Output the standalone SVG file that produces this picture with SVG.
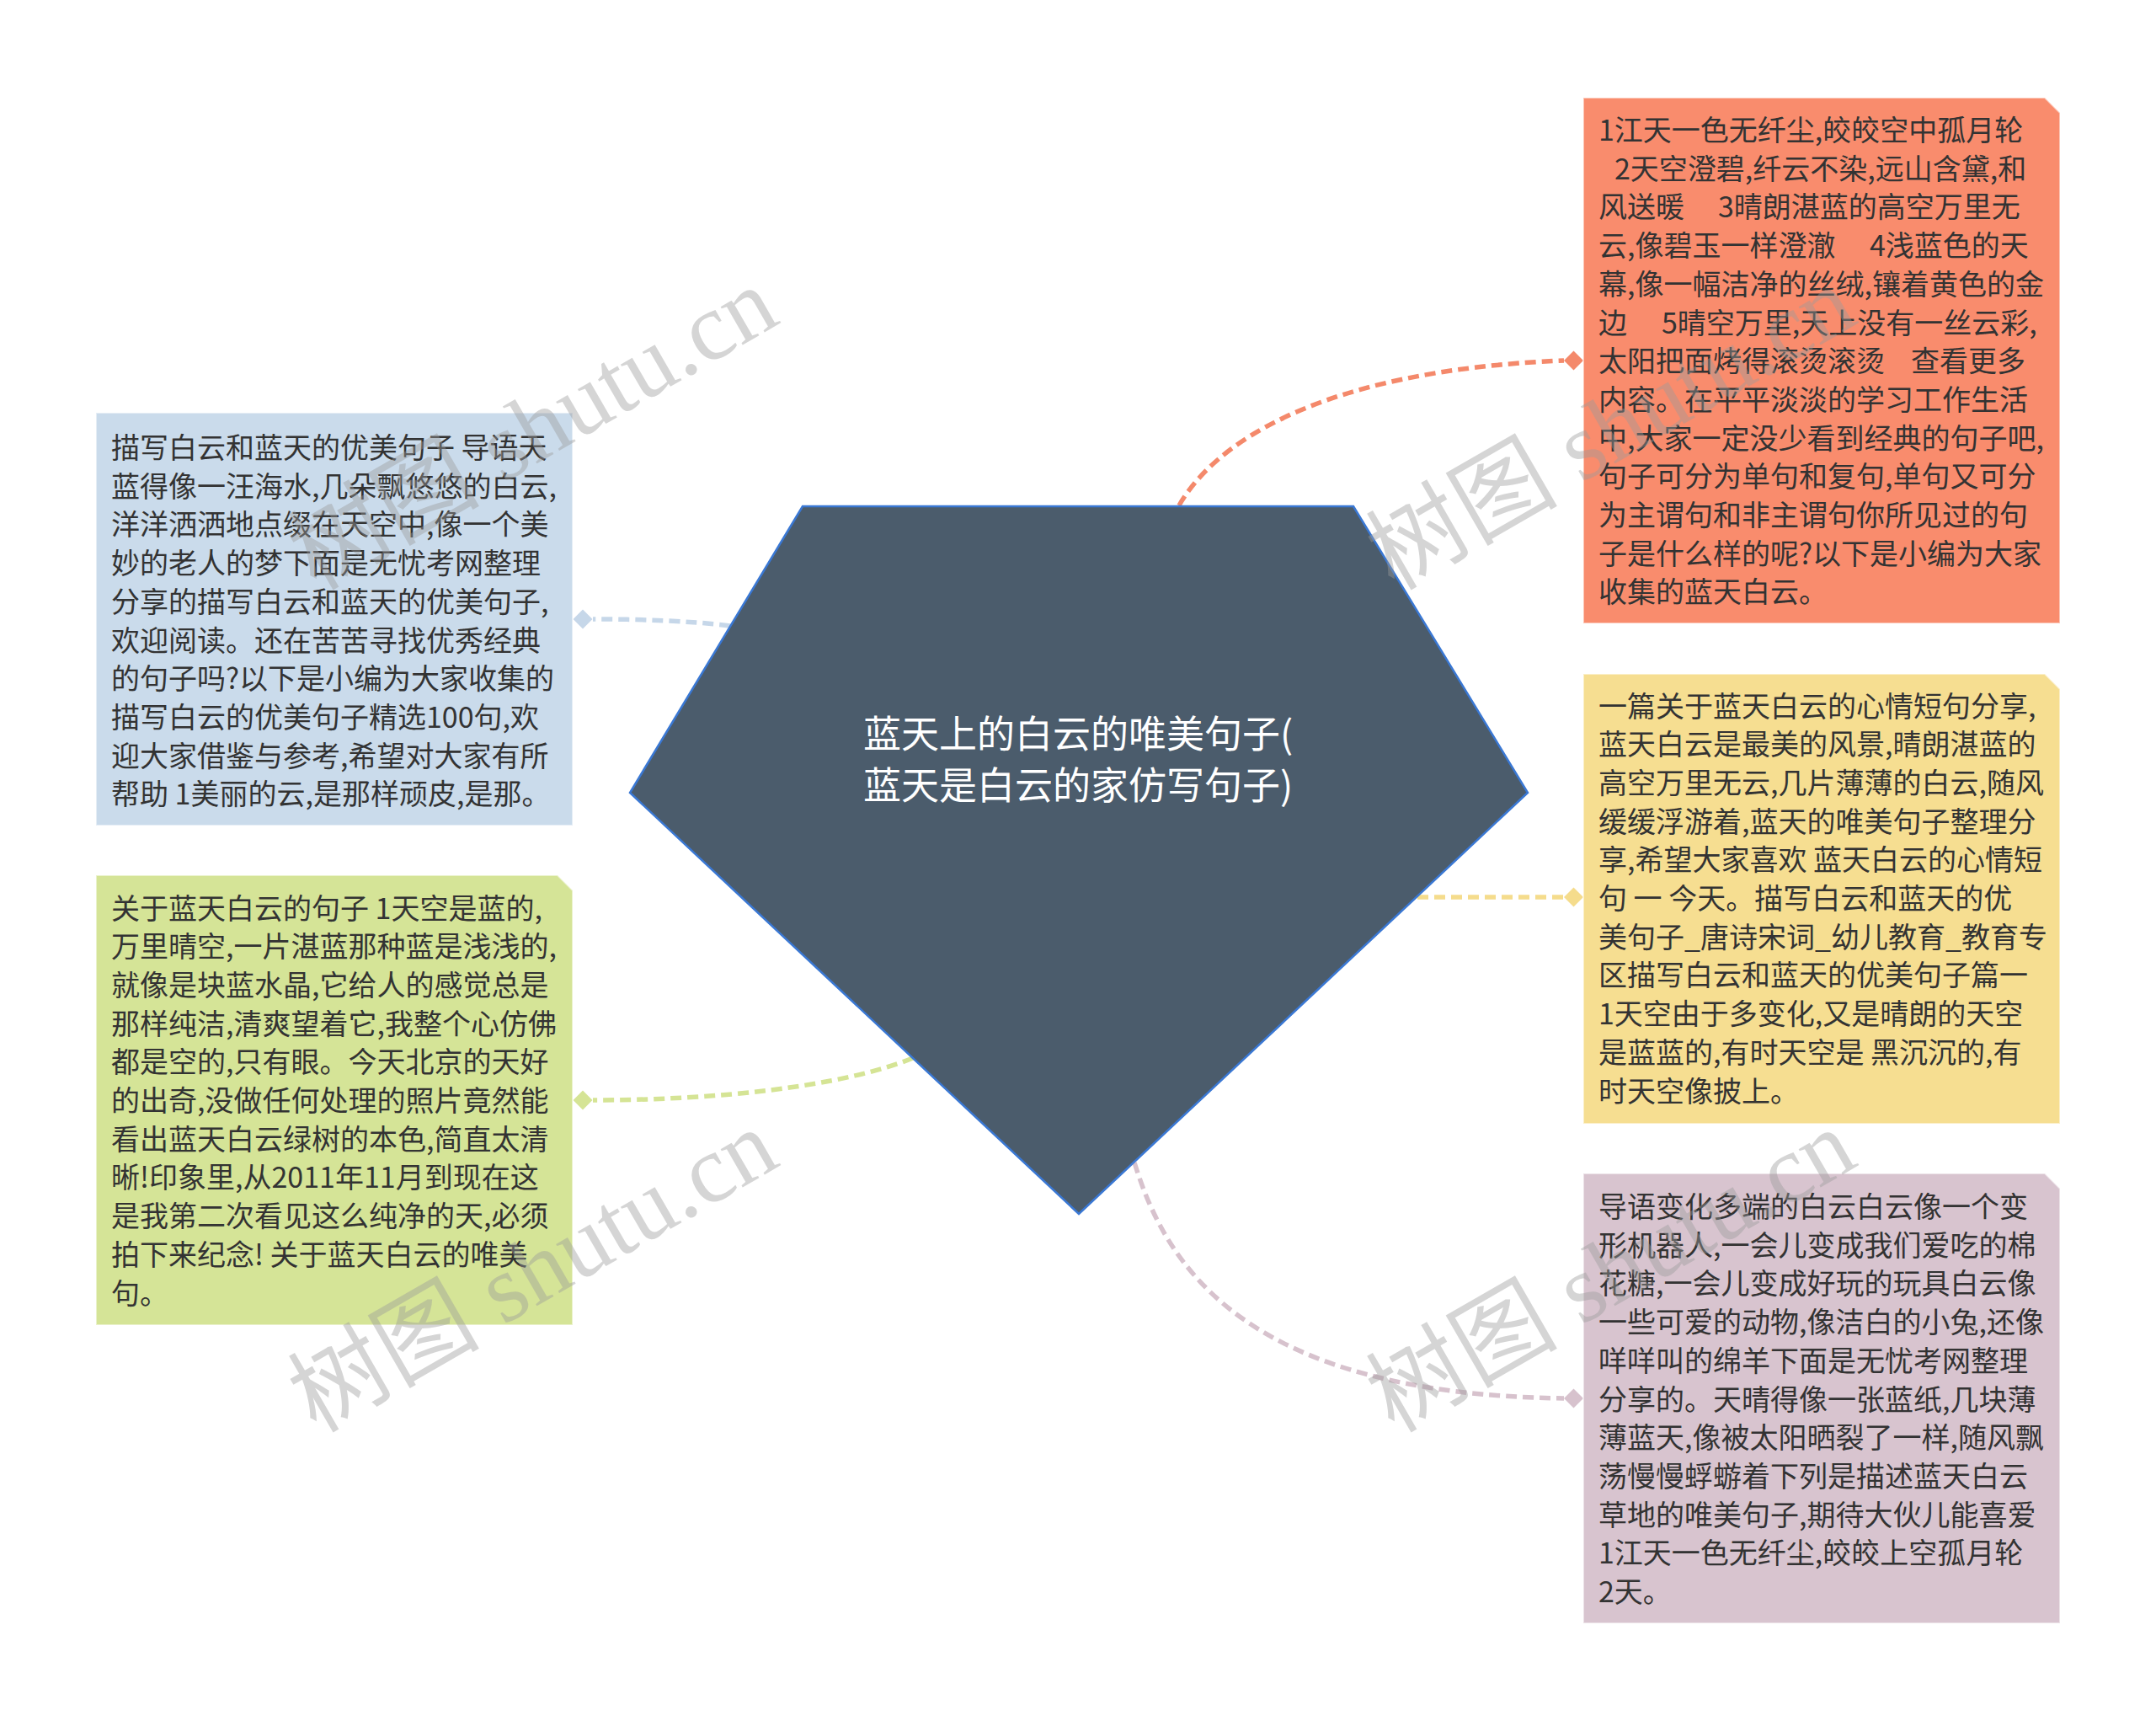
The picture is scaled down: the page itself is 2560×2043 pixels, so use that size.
<svg xmlns="http://www.w3.org/2000/svg" width="2560" height="2043" viewBox="0 0 2560 2043">
<style>
.bg{fill:#ffffff}
.t{font-family:"Noto Sans CJK SC","Microsoft YaHei",sans-serif;font-size:34px;fill:#333333}
.title{font-family:"Noto Sans CJK SC","Microsoft YaHei",sans-serif;font-size:45px;fill:#ffffff;text-anchor:middle}
.conn{fill:none;stroke-width:5.5;stroke-dasharray:13 7}
.wm{font-family:"Liberation Serif","Noto Sans CJK SC",serif;font-size:114px;fill:#9a9a9a;fill-opacity:0.42}
.box{stroke:#ffffff;stroke-opacity:0.5;stroke-width:2}
</style>
<rect class="bg" x="0" y="0" width="2560" height="2043"/>

<g id="connectors">
  <path class="conn" stroke="#F4896B" d="M1400,600 C1440,530 1560,440 1857,428"/>
  <path fill="#F4896B" d="M1868.5,416.5 L1880,428 L1868.5,439.5 L1857,428 Z"/>
  <path class="conn" stroke="#C6D7E9" d="M867,743 C820,737 760,735 704,735"/>
  <path fill="#C6D7E9" d="M692,723.5 L703.5,735 L692,746.5 L680.5,735 Z"/>
  <path class="conn" stroke="#D5E495" d="M1084,1256 C1000,1290 850,1306 704,1306"/>
  <path fill="#D5E495" d="M692,1294.5 L703.5,1306 L692,1317.5 L680.5,1306 Z"/>
  <path class="conn" stroke="#F5DC8C" d="M1683,1065 H1857"/>
  <path fill="#F5DC8C" d="M1868.5,1053.5 L1880,1065 L1868.5,1076.5 L1857,1065 Z"/>
  <path class="conn" stroke="#D7C2CD" d="M1347,1380 C1385,1505 1480,1655 1857,1660"/>
  <path fill="#D7C2CD" d="M1868.5,1648.5 L1880,1660 L1868.5,1671.5 L1857,1660 Z"/>
</g>

<g id="center">
  <polygon points="953,601 1607,601 1814,941 1281,1441 748,941" fill="#4B5C6C" stroke="#3A78D4" stroke-width="2.5"/>
  <text class="title"><tspan x="1280" y="888">蓝天上的白云的唯美句子(</tspan><tspan x="1280" y="949">蓝天是白云的家仿写句子)</tspan></text>
</g>

<g id="node-orange">
  <path class="box" fill="#F98C6D" d="M1880,116 H2428 L2446,134 V740 H1880 Z"/>
  <text class="t">
    <tspan x="1898" y="167">1江天一色无纤尘,皎皎空中孤月轮</tspan>
    <tspan x="1917" y="212.7">2天空澄碧,纤云不染,远山含黛,和</tspan>
    <tspan x="1898" y="258.4">风送暖 </tspan><tspan x="2040" y="258.4">3晴朗湛蓝的高空万里无</tspan>
    <tspan x="1898" y="304.1">云,像碧玉一样澄澈 </tspan><tspan x="2220" y="304.1">4浅蓝色的天</tspan>
    <tspan x="1898" y="349.8">幕,像一幅洁净的丝绒,镶着黄色的金</tspan>
    <tspan x="1898" y="395.5">边 </tspan><tspan x="1973" y="395.5">5晴空万里,天上没有一丝云彩,</tspan>
    <tspan x="1898" y="441.2">太阳把面烤得滚烫滚烫 </tspan><tspan x="2269" y="441.2">查看更多</tspan>
    <tspan x="1898" y="486.9">内容。在平平淡淡的学习工作生活</tspan>
    <tspan x="1898" y="532.6">中,大家一定没少看到经典的句子吧,</tspan>
    <tspan x="1898" y="578.3">句子可分为单句和复句,单句又可分</tspan>
    <tspan x="1898" y="624">为主谓句和非主谓句你所见过的句</tspan>
    <tspan x="1898" y="669.7">子是什么样的呢?以下是小编为大家</tspan>
    <tspan x="1898" y="715.4">收集的蓝天白云。</tspan>
  </text>
</g>

<g id="node-yellow">
  <path class="box" fill="#F6DE91" d="M1880,800 H2428 L2446,818 V1334 H1880 Z"/>
  <text class="t">
    <tspan x="1898" y="850.5">一篇关于蓝天白云的心情短句分享,</tspan>
    <tspan x="1898" y="896.2">蓝天白云是最美的风景,晴朗湛蓝的</tspan>
    <tspan x="1898" y="941.9">高空万里无云,几片薄薄的白云,随风</tspan>
    <tspan x="1898" y="987.6">缓缓浮游着,蓝天的唯美句子整理分</tspan>
    <tspan x="1898" y="1033.3">享,希望大家喜欢 蓝天白云的心情短</tspan>
    <tspan x="1898" y="1079">句 一 今天。描写白云和蓝天的优</tspan>
    <tspan x="1898" y="1124.7">美句子_唐诗宋词_幼儿教育_教育专</tspan>
    <tspan x="1898" y="1170.4">区描写白云和蓝天的优美句子篇一</tspan>
    <tspan x="1898" y="1216.1">1天空由于多变化,又是晴朗的天空</tspan>
    <tspan x="1898" y="1261.8">是蓝蓝的,有时天空是 黑沉沉的,有</tspan>
    <tspan x="1898" y="1307.5">时天空像披上。</tspan>
  </text>
</g>

<g id="node-purple">
  <path class="box" fill="#D8C4CF" d="M1880,1393 H2428 L2446,1411 V1927 H1880 Z"/>
  <text class="t">
    <tspan x="1898" y="1445">导语变化多端的白云白云像一个变</tspan>
    <tspan x="1898" y="1490.7">形机器人,一会儿变成我们爱吃的棉</tspan>
    <tspan x="1898" y="1536.4">花糖,一会儿变成好玩的玩具白云像</tspan>
    <tspan x="1898" y="1582.1">一些可爱的动物,像洁白的小兔,还像</tspan>
    <tspan x="1898" y="1627.8">咩咩叫的绵羊下面是无忧考网整理</tspan>
    <tspan x="1898" y="1673.5">分享的。天晴得像一张蓝纸,几块薄</tspan>
    <tspan x="1898" y="1719.2">薄蓝天,像被太阳晒裂了一样,随风飘</tspan>
    <tspan x="1898" y="1764.9">荡慢慢蜉蝣着下列是描述蓝天白云</tspan>
    <tspan x="1898" y="1810.6">草地的唯美句子,期待大伙儿能喜爱</tspan>
    <tspan x="1898" y="1856.3">1江天一色无纤尘,皎皎上空孤月轮</tspan>
    <tspan x="1898" y="1902">2天。</tspan>
  </text>
</g>

<g id="node-blue">
  <path class="box" fill="#CADBEB" d="M114,490 H680 V980 H114 Z"/>
  <text class="t">
    <tspan x="132" y="544">描写白云和蓝天的优美句子 导语天</tspan>
    <tspan x="132" y="589.7">蓝得像一汪海水,几朵飘悠悠的白云,</tspan>
    <tspan x="132" y="635.4">洋洋洒洒地点缀在天空中,像一个美</tspan>
    <tspan x="132" y="681.1">妙的老人的梦下面是无忧考网整理</tspan>
    <tspan x="132" y="726.8">分享的描写白云和蓝天的优美句子,</tspan>
    <tspan x="132" y="772.5">欢迎阅读。还在苦苦寻找优秀经典</tspan>
    <tspan x="132" y="818.2">的句子吗?以下是小编为大家收集的</tspan>
    <tspan x="132" y="863.9">描写白云的优美句子精选100句,欢</tspan>
    <tspan x="132" y="909.6">迎大家借鉴与参考,希望对大家有所</tspan>
    <tspan x="132" y="955.3">帮助 1美丽的云,是那样顽皮,是那。</tspan>
  </text>
</g>

<g id="node-green">
  <path class="box" fill="#D5E497" d="M114,1039 H662 L680,1057 V1573 H114 Z"/>
  <text class="t">
    <tspan x="132" y="1090.5">关于蓝天白云的句子 1天空是蓝的,</tspan>
    <tspan x="132" y="1136.2">万里晴空,一片湛蓝那种蓝是浅浅的,</tspan>
    <tspan x="132" y="1181.9">就像是块蓝水晶,它给人的感觉总是</tspan>
    <tspan x="132" y="1227.6">那样纯洁,清爽望着它,我整个心仿佛</tspan>
    <tspan x="132" y="1273.3">都是空的,只有眼。今天北京的天好</tspan>
    <tspan x="132" y="1319">的出奇,没做任何处理的照片竟然能</tspan>
    <tspan x="132" y="1364.7">看出蓝天白云绿树的本色,简直太清</tspan>
    <tspan x="132" y="1410.4">晰!印象里,从2011年11月到现在这</tspan>
    <tspan x="132" y="1456.1">是我第二次看见这么纯净的天,必须</tspan>
    <tspan x="132" y="1501.8">拍下来纪念! 关于蓝天白云的唯美</tspan>
    <tspan x="132" y="1547.5">句。</tspan>
  </text>
</g>

<g id="watermarks">
  <text class="wm" transform="translate(375,702) rotate(-30)">树图 shutu.cn</text>
  <text class="wm" transform="translate(375,1702) rotate(-30)">树图 shutu.cn</text>
  <text class="wm" transform="translate(1655,702) rotate(-30)">树图 shutu.cn</text>
  <text class="wm" transform="translate(1655,1702) rotate(-30)">树图 shutu.cn</text>
</g>
</svg>
